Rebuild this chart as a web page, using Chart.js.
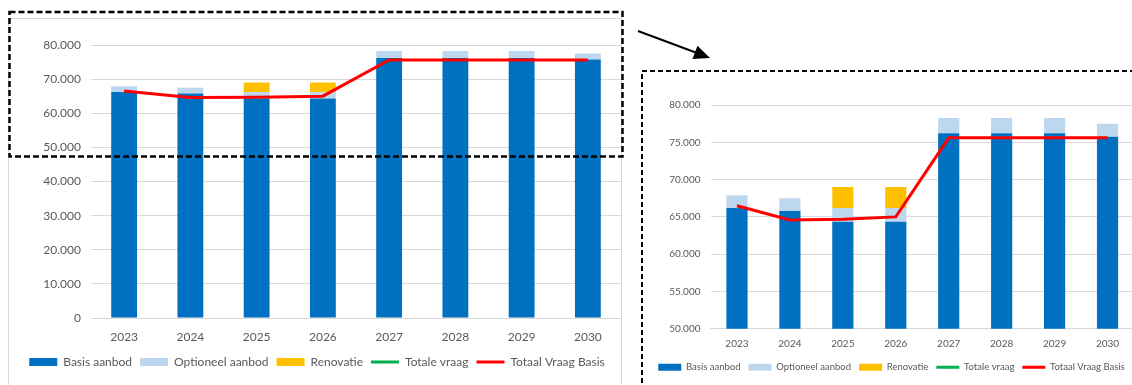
<!DOCTYPE html>
<html>
<head>
<meta charset="utf-8">
<script src="https://cdn.jsdelivr.net/npm/chart.js@4"></script>
<style>
  html, body { margin: 0; padding: 0; background: #fff; overflow: hidden; width: 1132px; height: 385px; }
  #leftFrame { position: absolute; left: 8px; top: 18px; width: 612px; height: 400px; border: 1px solid #d9d9d9; }
  #overviewChart { position: absolute; left: 9px; top: 19px; }
  #zoomChart { position: absolute; left: 643px; top: 72px; }
  #marks { position: absolute; left: 0; top: 0; pointer-events: none; }
</style>
</head>
<body>
<div id="leftFrame"></div>
<canvas id="overviewChart" width="612" height="366"></canvas>
<canvas id="zoomChart" width="497" height="313"></canvas>
<svg id="marks" width="1132" height="385">
  <rect x="9.5" y="12" width="613" height="144.5" fill="none" stroke="#000" stroke-width="2.5" stroke-dasharray="6 3"/>
  <rect x="642" y="71" width="520" height="340" fill="none" stroke="#000" stroke-width="2" stroke-dasharray="5 3"/>
  <line x1="638" y1="31" x2="697" y2="53" stroke="#000" stroke-width="2"/>
  <polygon points="710,58 692.5,59 697.5,45.8" fill="#000"/>
</svg>

<script>
// Data
const years = ['2023', '2024', '2025', '2026', '2027', '2028', '2029', '2030'];
const basisAanbod = [66200, 65800, 64350, 64350, 76200, 76200, 76200, 75750];
const optioneelAanbod = [1700, 1700, 1850, 1850, 2050, 2050, 2050, 1750];
const renovatie = [0, 0, 2800, 2800, 0, 0, 0, 0];
const totaleVraag = [66500, 64600, 64700, 65000, 75600, 75600, 75600, 75600];
const totaalVraagBasis = [66500, 64600, 64700, 65000, 75600, 75600, 75600, 75600];

// Axis ranges (tick labels follow from these)
const overviewTicks = { min: 0, max: 80000, step: 10000 };
const zoomTicks = { min: 50000, max: 80000, step: 5000 };

const textColor = '#595959';
const gridColor = '#d9d9d9';

// Dutch thousands separator
function formatNumber(v) {
  return String(v).replace(/\B(?=(\d{3})+(?!\d))/g, '.');
}

function buildDatasets(barPct) {
  const bar = (label, data, color) => ({
    type: 'bar', label, data, backgroundColor: color, borderWidth: 0,
    stack: 'aanbod', order: 2, barPercentage: barPct, categoryPercentage: 1,
    pointStyle: 'rect'
  });
  const line = (label, data, color, order) => ({
    type: 'line', label, data, borderColor: color, backgroundColor: color,
    borderWidth: 3, pointRadius: 0, tension: 0, order, pointStyle: 'line'
  });
  return [
    bar('Basis aanbod', basisAanbod, '#0070C0'),
    bar('Optioneel aanbod', optioneelAanbod, '#BDD7EE'),
    bar('Renovatie', renovatie, '#FFC000'),
    line('Totale vraag', totaleVraag, '#00B050', 1),
    line('Totaal Vraag Basis', totaalVraagBasis, '#FF0000', 0)
  ];
}

function makeChart(canvas, s) {
  return new Chart(canvas.getContext('2d'), {
    type: 'bar',
    data: { labels: years, datasets: buildDatasets(s.barPct) },
    options: {
      responsive: false,
      animation: false,
      layout: { padding: s.padding },
      plugins: {
        tooltip: { enabled: false },
        legend: {
          position: 'bottom',
          labels: {
            color: textColor,
            font: { family: 'Lato', size: s.legendFont },
            usePointStyle: true,
            pointStyleWidth: s.boxW,
            boxHeight: s.boxH,
            padding: s.legendGap,
            sort: (a, b) => a.datasetIndex - b.datasetIndex
          }
        }
      },
      scales: {
        x: {
          stacked: true,
          grid: { display: false, drawTicks: false },
          border: { color: gridColor },
          ticks: { color: textColor, font: { family: 'Lato', size: s.font }, padding: s.xPad, maxRotation: 0 },
          afterFit: scale => { scale.height = s.xHeight; }
        },
        y: {
          stacked: true,
          min: s.ticks.min,
          max: s.ticks.max,
          border: { display: false },
          grid: { color: gridColor, drawTicks: false },
          ticks: {
            stepSize: s.ticks.step,
            color: textColor,
            font: { family: 'Lato', size: s.font },
            padding: s.yPad,
            callback: v => formatNumber(v)
          },
          afterFit: scale => { scale.width = s.yWidth; }
        }
      }
    }
  });
}

// Full chart, left
makeChart(document.getElementById('overviewChart'), {
  ticks: overviewTicks, barPct: 0.39, font: 12, legendFont: 12, boxW: 28, boxH: 8, legendGap: 8,
  padding: { left: 4, right: 0, top: 26, bottom: 7 }, yWidth: 78, yPad: 10, xPad: 12, xHeight: 30
});

// Zoomed chart, right
makeChart(document.getElementById('zoomChart'), {
  ticks: zoomTicks, barPct: 0.4, font: 10, legendFont: 9.5, boxW: 23, boxH: 7, legendGap: 8,
  padding: { left: 6, right: 6, top: 33, bottom: 3 }, yWidth: 61.5, yPad: 10, xPad: 9, xHeight: 25.7
});
</script>
</body>
</html>
